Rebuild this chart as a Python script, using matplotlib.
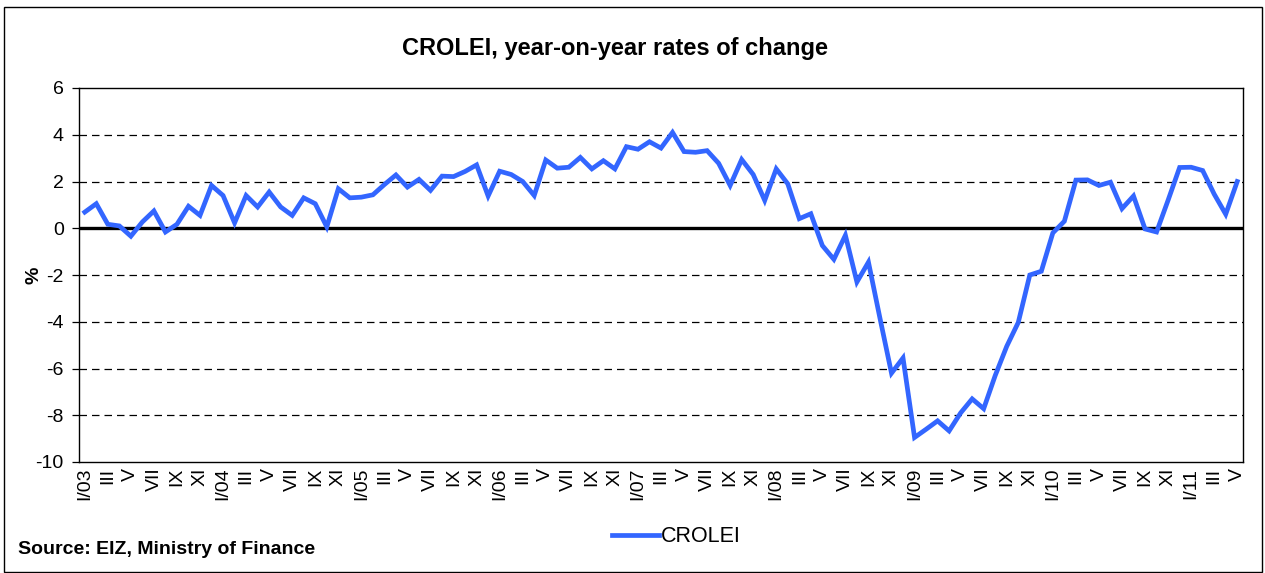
import matplotlib
matplotlib.use('Agg')
import matplotlib.pyplot as plt
from matplotlib.patches import Rectangle

plt.rcParams['font.family'] = ['Liberation Sans', 'DejaVu Sans']
plt.rcParams['axes.unicode_minus'] = False

# CROLEI y-o-y, monthly from I/2003 to V/2011
crolei = [0.69, 1.05, 0.17, 0.10, -0.34, 0.27, 0.74, -0.16, 0.17, 0.94, 0.55, 1.83,
          1.40, 0.23, 1.40, 0.91, 1.55, 0.91, 0.55, 1.30, 1.05, 0.06, 1.69, 1.30,
          1.33, 1.43, 1.87, 2.28, 1.76, 2.09, 1.62, 2.23, 2.21, 2.43, 2.71, 1.38,
          2.44, 2.30, 2.00, 1.40, 2.92, 2.57, 2.61, 3.03, 2.54, 2.89, 2.54, 3.49,
          3.38, 3.70, 3.43, 4.10, 3.28, 3.25, 3.32, 2.78, 1.83, 2.94, 2.30, 1.19,
          2.54, 1.90, 0.41, 0.62, -0.74, -1.33, -0.30, -2.30, -1.45, -3.85, -6.20, -5.55,
          -8.95, -8.60, -8.24, -8.67, -7.90, -7.30, -7.72, -6.30, -5.05, -4.03, -2.00, -1.84,
          -0.20, 0.30, 2.06, 2.07, 1.83, 1.97, 0.84, 1.38, -0.03, -0.16, 1.20, 2.60,
          2.61, 2.47, 1.46, 0.60, 2.00]

years = ['03', '04', '05', '06', '07', '08', '09', '10', '11']
months = ['I', 'II', 'III', 'IV', 'V', 'VI', 'VII', 'VIII', 'IX', 'X', 'XI', 'XII']

labels = []
for i in range(len(crolei)):
    m = months[i % 12]
    labels.append(m + '/' + years[i // 12] if m == 'I' else m)

W, H = 1265, 573
fig = plt.figure(figsize=(W / 100, H / 100), dpi=100)
ax = fig.add_axes([79 / W, 1 - 462 / H, (1243 - 79) / W, (462 - 88) / H])

x = list(range(len(crolei)))
ax.plot(x, crolei, color='#3366ff', lw=3.4, label='CROLEI', zorder=3,
        solid_joinstyle='miter')

ax.set_xlim(-0.5, len(crolei) - 0.5)
ax.set_ylim(-10, 6)
ax.set_yticks(range(-10, 7, 2))
for yv in range(-8, 6, 2):
    if yv == 0:
        ax.axhline(0, color='black', lw=2.4, zorder=2)
    else:
        ax.axhline(yv, color='black', lw=0.9, ls=(0, (6, 4)), zorder=1)

ax.set_xticks(x[::2])
ax.set_xticklabels(labels[::2], rotation=90, fontsize=14)
ax.tick_params(axis='x', length=0, pad=4)
ax.tick_params(axis='y', labelsize=14, length=5, width=0.9, direction='out', pad=6)
for s in ax.spines.values():
    s.set_linewidth(1.0)

ax.set_ylabel('%', fontsize=14, fontweight='bold')
ax.yaxis.set_label_coords(-0.031, 0.5)

fig.text(615 / W, 1 - 48 / H, 'CROLEI, year-on-year rates of change',
         ha='center', va='center', fontsize=17, fontweight='bold')
fig.text(18 / W, 1 - 550 / H, 'Source: EIZ, Ministry of Finance',
         ha='left', va='center', fontsize=14, fontweight='bold')

fig.legend(loc='center left', bbox_to_anchor=(612 / W, 1 - 537 / H), frameon=False,
           fontsize=15.5, handlelength=2.2, handletextpad=0.05, borderpad=0,
           borderaxespad=0)

fig.patches.append(Rectangle((4 / W, 1 / H), 1258 / W, (H - 8) / H, transform=fig.transFigure,
                             fill=False, edgecolor='black', lw=1.0))

fig.savefig('out.png', dpi=100)
